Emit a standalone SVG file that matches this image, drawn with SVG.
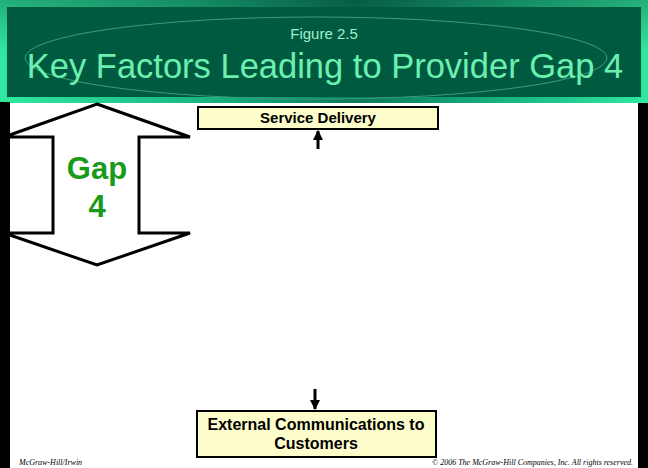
<svg xmlns="http://www.w3.org/2000/svg" width="648" height="468" viewBox="0 0 648 468">
<defs>
<linearGradient id="frame" x1="0" y1="0" x2="1" y2="0">
<stop offset="0" stop-color="#30e8a0"/>
<stop offset="0.3" stop-color="#1bb884"/>
<stop offset="0.55" stop-color="#0a7a5c"/>
<stop offset="0.8" stop-color="#1bb884"/>
<stop offset="1" stop-color="#30e8a0"/>
</linearGradient>
<linearGradient id="frameV" x1="0" y1="0" x2="0" y2="1">
<stop offset="0" stop-color="#000" stop-opacity="0.25"/>
<stop offset="0.5" stop-color="#000" stop-opacity="0"/>
</linearGradient>
<marker id="ah" viewBox="0 0 10 10" refX="9" refY="5" markerWidth="3.5" markerHeight="4" orient="auto" markerUnits="strokeWidth">
<path d="M0,0 L10,5 L0,10 z" fill="#000"/>
</marker>
<style>
.box{fill:#fdfdcc;stroke:#000;stroke-width:2}
.lbl{font-family:"Liberation Sans",Arial,sans-serif;font-weight:bold;fill:#000;text-anchor:middle}
.foot{font-family:"Liberation Serif","Times New Roman",serif;font-style:italic;font-size:8px;fill:#000}
.conn{stroke:#000;stroke-width:3;fill:none}
</style>
</defs>
<rect x="0" y="0" width="648" height="468" fill="#000"/>
<rect x="10" y="102" width="628" height="366" fill="#fff"/>
<g id="header">
<rect x="0" y="0" width="648" height="103" fill="url(#frame)"/>
<rect x="0" y="0" width="648" height="103" fill="url(#frameV)"/>
<rect x="7" y="7" width="634" height="90" fill="#005a40"/>
<ellipse cx="316" cy="58" rx="291" ry="41" fill="none" stroke="#3f9a78" stroke-width="1"/>
<text x="324" y="39" text-anchor="middle" font-family="Liberation Sans,Arial,sans-serif" font-size="15" fill="#9ef0cc">Figure 2.5</text>
<text x="325" y="78" text-anchor="middle" font-family="Liberation Sans,Arial,sans-serif" font-size="34.5" fill="#6cf0b0">Key Factors Leading to Provider Gap 4</text>
</g>
<g id="gap4">
<polygon points="97,104 190,137 139,137 139,233 190,233 97,265 4,233 53,233 53,137 4,137" fill="#fff" stroke="#000" stroke-width="3" stroke-linejoin="miter"/>
<text x="97" y="179" text-anchor="middle" font-family="Liberation Sans,Arial,sans-serif" font-weight="bold" font-size="31" fill="#1a9a1a">Gap</text>
<text x="97" y="217" text-anchor="middle" font-family="Liberation Sans,Arial,sans-serif" font-weight="bold" font-size="31" fill="#1a9a1a">4</text>
</g>
<rect x="0" y="102" width="10" height="366" fill="#000"/>
<g id="service-delivery">
<rect class="box" x="198" y="107" width="240" height="22"/>
<text class="lbl" x="318" y="123" font-size="15">Service Delivery</text>
</g>
<g id="external-communications">
<rect class="box" x="197" y="411" width="239" height="46"/>
<text class="lbl" x="316" y="430" font-size="16">External Communications to</text>
<text class="lbl" x="316" y="449" font-size="16">Customers</text>
</g>
<g id="connectors">
<line class="conn" x1="318" y1="149" x2="318" y2="131" marker-end="url(#ah)"/>
<line class="conn" x1="315" y1="389" x2="315" y2="409" marker-end="url(#ah)"/>
</g>
<g id="footer">
<text class="foot" x="19" y="465">McGraw-Hill/Irwin</text>
<text class="foot" x="633" y="465" text-anchor="end">© 2006 The McGraw-Hill Companies, Inc. All rights reserved.</text>
</g>
</svg>
